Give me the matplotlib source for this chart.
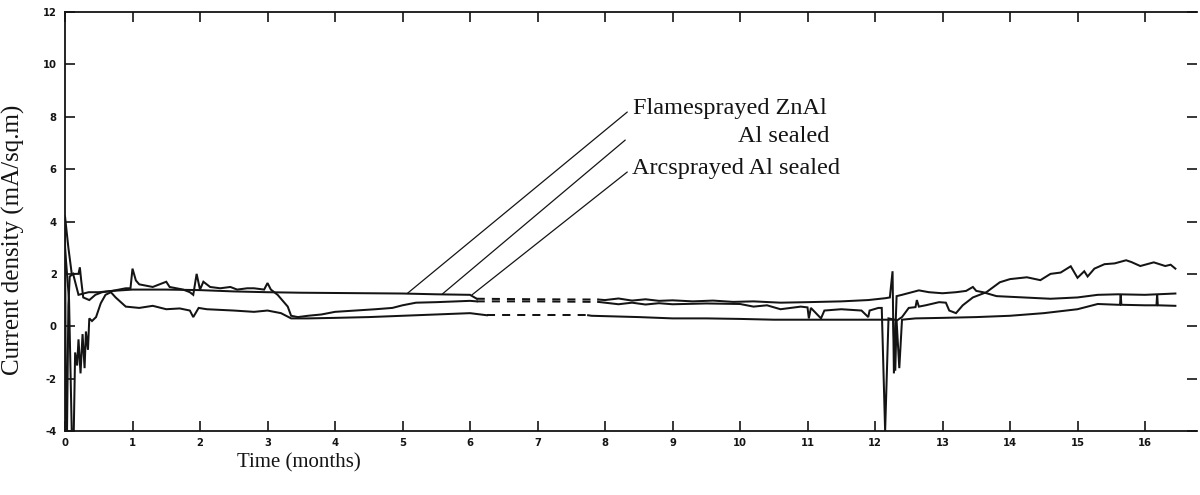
import numpy as np
import matplotlib
matplotlib.use("Agg")
import matplotlib.pyplot as plt

# corrosion current density traces (months, mA/sq.m)
flame_t = [0.0, 0.015, 0.03, 0.05, 0.07, 0.12, 0.2, 0.35, 0.5, 0.7, 1.0, 1.5, 2.0, 2.5, 3.0, 3.5,
           4.0, 4.5, 5.0, 5.5, 6.0, 6.1, 7.0, 7.9, 8.0, 8.2, 8.4, 8.6, 8.8, 9.0, 9.3, 9.6, 9.9,
           10.2, 10.6, 11.0, 11.5, 11.9, 12.15, 12.22, 12.26, 12.28, 12.32, 12.4, 12.65, 12.8,
           13.0, 13.2, 13.35, 13.45, 13.5, 13.6, 13.8, 14.2, 14.6, 15.0, 15.3, 15.6, 16.0, 16.45]
flame_v = [3.8, -4.0, -4.0, 0.8, 1.9, 2.0, 1.2, 1.3, 1.3, 1.35, 1.4, 1.4, 1.38, 1.33, 1.3, 1.28,
           1.27, 1.26, 1.25, 1.22, 1.2, 1.05, 1.03, 1.02, 1.0, 1.06, 0.98, 1.03, 0.97, 0.99, 0.95,
           0.98, 0.93, 0.95, 0.9, 0.92, 0.95, 1.0, 1.07, 1.1, 2.1, -1.8, 1.15, 1.2, 1.37, 1.3,
           1.26, 1.3, 1.35, 1.5, 1.35, 1.3, 1.15, 1.1, 1.05, 1.1, 1.2, 1.22, 1.2, 1.25]

al_t = [0.0, 0.05, 0.1, 0.15, 0.2, 0.22, 0.24, 0.27, 0.36, 0.45, 0.55, 0.7, 0.9, 0.97, 1.0, 1.05,
        1.1, 1.2, 1.3, 1.4, 1.5, 1.55, 1.65, 1.75, 1.85, 1.9, 1.95, 2.0, 2.05, 2.15, 2.3, 2.45,
        2.55, 2.7, 2.8, 2.95, 3.0, 3.05, 3.15, 3.25, 3.3, 3.35, 3.45, 3.6, 3.8, 4.0, 4.3, 4.6,
        4.85, 5.0, 5.2, 5.5, 5.8, 6.0, 6.1, 7.0, 7.9, 8.0, 8.2, 8.4, 8.6, 8.8, 9.0, 9.5, 10.0,
        10.2, 10.4, 10.6, 10.9, 11.0, 11.02, 11.05, 11.2, 11.25, 11.5, 11.8, 11.9, 11.92, 12.05,
        12.1, 12.15, 12.2, 12.33, 12.4, 12.5, 12.6, 12.62, 12.65, 12.75, 12.95, 13.05, 13.1, 13.2,
        13.3, 13.45, 13.65, 13.85, 14.0, 14.25, 14.45, 14.6, 14.75, 14.9, 15.0, 15.1, 15.15,
        15.25, 15.4, 15.55, 15.72, 15.8, 15.93, 16.13, 16.3, 16.38, 16.45]
al_v = [4.2, 3.0, 2.0, 2.0, 2.0, 2.25, 1.75, 1.1, 1.0, 1.2, 1.3, 1.35, 1.45, 1.45, 2.2, 1.75,
        1.6, 1.55, 1.5, 1.6, 1.7, 1.5, 1.45, 1.4, 1.3, 1.2, 2.0, 1.4, 1.7, 1.5, 1.45, 1.5,
        1.4, 1.45, 1.45, 1.4, 1.65, 1.4, 1.2, 0.9, 0.75, 0.4, 0.35, 0.4, 0.45, 0.55, 0.6, 0.65,
        0.7, 0.8, 0.9, 0.92, 0.95, 0.97, 0.95, 0.95, 0.93, 0.9, 0.84, 0.9, 0.83, 0.88, 0.84, 0.87,
        0.85, 0.75, 0.8, 0.65, 0.75, 0.72, 0.3, 0.7, 0.3, 0.6, 0.65, 0.6, 0.35, 0.6, 0.7,
        0.7, -4.0, 0.3, 0.23, 0.35, 0.7, 0.73, 1.0, 0.75, 0.8, 0.92, 0.9, 0.6, 0.5,
        0.8, 1.1, 1.3, 1.68, 1.8, 1.87, 1.76, 2.0, 2.05, 2.29, 1.85, 2.1, 1.9,
        2.2, 2.37, 2.4, 2.52, 2.45, 2.3, 2.44, 2.3, 2.35, 2.2]

arc_t = [0.0, 0.06, 0.1, 0.13, 0.15, 0.18, 0.2, 0.23, 0.26, 0.29, 0.31, 0.34, 0.36, 0.4, 0.46,
         0.53, 0.6, 0.68, 0.75, 0.9, 1.1, 1.3, 1.5, 1.7, 1.85, 1.9, 1.98, 2.1, 2.5, 2.8, 3.0, 3.2,
         3.35, 3.6, 4.0, 4.5, 5.0, 5.5, 6.0, 6.25, 7.0, 7.75, 7.8, 8.5, 9.0, 9.5, 10.0, 10.5, 11.0,
         11.5, 12.0, 12.27, 12.3, 12.32, 12.36, 12.4, 12.6, 13.0, 13.5, 14.0, 14.5, 15.0, 15.3,
         15.6, 15.63, 15.64, 15.65, 16.0, 16.17, 16.18, 16.19, 16.45]
arc_v = [3.0, 1.0, -4.0, -4.0, -1.0, -1.5, -0.5, -1.8, -0.3, -1.6, -0.2, -0.9, 0.3, 0.2, 0.35,
         0.88, 1.2, 1.3, 1.1, 0.75, 0.7, 0.78, 0.65, 0.68, 0.6, 0.35, 0.7, 0.65, 0.6, 0.55, 0.6, 0.5,
         0.3, 0.3, 0.32, 0.35, 0.4, 0.45, 0.5, 0.42, 0.42, 0.42, 0.4, 0.35, 0.3, 0.3, 0.28, 0.25, 0.25,
         0.25, 0.25, 0.25, -1.7, 0.2, -1.6, 0.25, 0.3, 0.32, 0.35, 0.4, 0.5, 0.65, 0.85,
         0.82, 0.82, 1.22, 0.82, 0.8, 0.8, 1.22, 0.8, 0.78]

# stretch of each record with no logged readings (drawn dashed)
flame_gap = (6.1, 7.9)
al_gap = (6.1, 7.9)
arc_gap = (6.25, 7.75)

labels = ["Flamesprayed ZnAl", "Al sealed", "Arcsprayed Al sealed"]
label_pos = [(8.41, 8.10), (9.97, 7.03), (8.40, 5.81)]
leader_from = [(8.33, 8.18), (8.30, 7.11), (8.33, 5.89)]
leader_to = [(5.07, 1.25), (5.59, 1.23), (6.03, 1.2)]

INK = "#141414"


def draw_trace(ax, t, v, gap):
    t = np.asarray(t)
    v = np.asarray(v)
    before = t <= gap[0]
    inside = (t >= gap[0]) & (t <= gap[1])
    after = t >= gap[1]
    ax.plot(t[before], v[before], color=INK, lw=1.45, solid_joinstyle="miter")
    ax.plot(t[inside], v[inside], color=INK, lw=1.45, ls=(0, (4, 3.5)))
    ax.plot(t[after], v[after], color=INK, lw=1.45, solid_joinstyle="miter")


fig = plt.figure(figsize=(12, 4.95), dpi=100)
ax = fig.add_axes([65 / 1200, 1 - 431 / 495, 1132 / 1200, 419 / 495])

draw_trace(ax, flame_t, flame_v, flame_gap)
draw_trace(ax, al_t, al_v, al_gap)
draw_trace(ax, arc_t, arc_v, arc_gap)

for text, pos, start, end in zip(labels, label_pos, leader_from, leader_to):
    ax.annotate("", xy=end, xytext=start,
                arrowprops=dict(arrowstyle="-", color=INK, lw=0.9, shrinkA=0, shrinkB=0))
    ax.text(pos[0], pos[1], text, fontsize=17.5, family="Liberation Serif",
            color=INK, ha="left", va="baseline")

ax.set_xlim(0, 1132 / 67.5)
ax.set_ylim(-4, 12)
ax.set_xticks(range(0, 17))
ax.set_yticks(range(-4, 13, 2))

tick_font = dict(family="DejaVu Sans", weight="bold", stretch="condensed", size=8)
ax.set_xticklabels([str(i) for i in range(0, 17)], fontdict=tick_font)
ax.set_yticklabels([str(i) for i in range(-4, 13, 2)], fontdict=tick_font)

ax.tick_params(axis="both", direction="in", length=7, width=1.2, color=INK, labelcolor=INK)
ax.tick_params(axis="x", top=True, pad=5)
ax.tick_params(axis="y", right=True, pad=6)

for side in ["left", "top", "bottom"]:
    ax.spines[side].set_linewidth(1.3)
    ax.spines[side].set_color(INK)
ax.spines["right"].set_visible(False)

ax.set_xlabel("Time (months)", family="Liberation Serif", fontsize=15, color=INK,
              x=0.207, labelpad=4)
fig.text(13 / 1200, 1 - 240 / 495, "Current density (mA/sq.m)", rotation=90,
         family="Liberation Serif", fontsize=18, color=INK, ha="center", va="center")

fig.savefig("out.png", dpi=100)
